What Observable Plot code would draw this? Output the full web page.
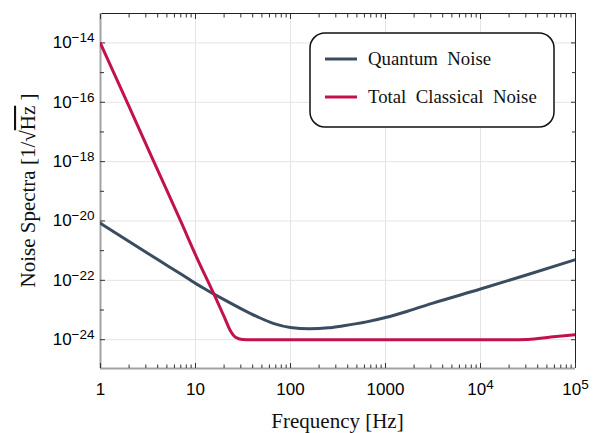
<!DOCTYPE html>
<html><head><meta charset="utf-8">
<script src="https://cdn.jsdelivr.net/npm/d3@7"></script>
<script src="https://cdn.jsdelivr.net/npm/@observablehq/plot@0.6"></script>
<style>body{margin:0;background:#fff}</style>
</head><body><div id="chart"></div>
<script>
// ---- data ----
const quantumFreq  = [1, 2, 4, 6.95, 10, 12.6, 15.6, 20, 30, 45, 67, 100, 158, 251, 363, 631, 1000, 1778, 3162, 10000, 31623, 100000];
const quantumNoise = [8.3e-21, 2.04e-21, 5.0e-22, 1.66e-22, 7.9e-23, 5.1e-23, 3.47e-23, 2.24e-23, 1.12e-23, 5.9e-24, 3.47e-24, 2.57e-24, 2.34e-24, 2.51e-24, 2.95e-24, 3.98e-24, 5.6e-24, 9.5e-24, 1.7e-23, 5.1e-23, 1.58e-22, 5.0e-22];
const classicalFreq  = [1, 1.91, 3.64, 6.95, 10.4, 15.6, 20, 23.3, 26.4, 30.9, 40, 100, 1000, 10000, 20000, 31600, 55000, 100000];
const classicalNoise = [9.5e-15, 1e-16, 1e-18, 1.02e-20, 5.5e-22, 3.47e-23, 6.0e-24, 2.0e-24, 1.2e-24, 1.02e-24, 1e-24, 1e-24, 1e-24, 1e-24, 1e-24, 1.02e-24, 1.23e-24, 1.48e-24];
const seriesNames = ["Quantum  Noise", "Total  Classical  Noise"];
const seriesColors = ["#3a4c5f", "#c2124b"];

const xMajor  = [1, 10, 100, 1000, 1e4, 1e5];
const xLabels = ["1", "10", "100", "1000", "10^4", "10^5"];
const yMajor  = [1e-24, 1e-22, 1e-20, 1e-18, 1e-16, 1e-14];
const yLabels = ["10^\u221224", "10^\u221222", "10^\u221220", "10^\u221218", "10^\u221216", "10^\u221214"];
const yMinor  = [1e-23, 1e-21, 1e-19, 1e-17, 1e-15];
const xMinor  = [];
for (const dec of [1, 10, 100, 1000, 1e4]) for (const m of [2,3,4,5,6,7,8,9]) xMinor.push(dec * m);

const xDomain = [1, 1e5];
const yDomain = [1.07e-25, 9.8e-14];

const quantum = quantumFreq.map((f, i) => ({f, v: quantumNoise[i]}));
const classical = classicalFreq.map((f, i) => ({f, v: classicalNoise[i]}));

const tickColor = "#333";
const axisGray = "#a3a3a3";

const plot = Plot.plot({
  width: 608, height: 433,
  marginLeft: 100, marginRight: 33, marginTop: 13, marginBottom: 65,
  style: {fontFamily: "'Liberation Sans', Arial, sans-serif", fontSize: "17px", background: "white", color: "#000"},
  x: {type: "log", domain: xDomain},
  y: {type: "log", domain: yDomain},
  marks: [
    Plot.gridX(xMajor, {stroke: "#e4e4e4", strokeOpacity: 1, strokeWidth: 1}),
    Plot.gridY(yMajor, {stroke: "#e4e4e4", strokeOpacity: 1, strokeWidth: 1}),
    // frame
    Plot.ruleY([yDomain[1]], {stroke: "#222", strokeWidth: 1}),
    Plot.ruleX([xDomain[1]], {stroke: "#222", strokeWidth: 1}),
    Plot.ruleY([yDomain[0]], {stroke: axisGray, strokeWidth: 2}),
    Plot.ruleX([xDomain[0]], {stroke: axisGray, strokeWidth: 2}),
    // ticks (inward)
    Plot.axisX({anchor: "bottom", ticks: xMajor, tickSize: -5, tickFormat: () => "", label: null, stroke: tickColor}),
    Plot.axisX({anchor: "bottom", ticks: xMinor, tickSize: -3.5, tickFormat: () => "", label: null, stroke: tickColor}),
    Plot.axisX({anchor: "top", ticks: xMajor, tickSize: -5, tickFormat: () => "", label: null, stroke: tickColor}),
    Plot.axisX({anchor: "top", ticks: xMinor, tickSize: -3.5, tickFormat: () => "", label: null, stroke: tickColor}),
    Plot.axisY({anchor: "left", ticks: yMajor, tickSize: -5, tickFormat: () => "", label: null, stroke: tickColor}),
    Plot.axisY({anchor: "left", ticks: yMinor, tickSize: -4, tickFormat: () => "", label: null, stroke: tickColor}),
    Plot.axisY({anchor: "right", ticks: yMajor, tickSize: -5, tickFormat: () => "", label: null, stroke: tickColor}),
    Plot.axisY({anchor: "right", ticks: yMinor, tickSize: -4, tickFormat: () => "", label: null, stroke: tickColor}),
    // tick labels
    Plot.axisX({anchor: "bottom", ticks: xMajor, tickSize: 0, tickPadding: 14, tickFormat: d => xLabels[xMajor.indexOf(d)], label: null, fontSize: 17}),
    Plot.axisY({anchor: "left", ticks: yMajor, tickSize: 0, tickPadding: 6, tickFormat: d => yLabels[yMajor.indexOf(d)], label: null, fontSize: 17}),
    // curves
    Plot.line(quantum, {x: "f", y: "v", stroke: seriesColors[0], strokeWidth: 3, curve: "monotone-x", clip: true}),
    Plot.line(classical, {x: "f", y: "v", stroke: seriesColors[1], strokeWidth: 3, curve: "monotone-x", clip: true})
  ]
});

document.getElementById("chart").appendChild(plot);
const svg = d3.select(plot);

// superscripts in tick labels
svg.selectAll("text").each(function() {
  const t = this.textContent;
  if (t.includes("^")) {
    const [b, e] = t.split("^");
    const sel = d3.select(this);
    sel.text(null);
    sel.append("tspan").text(b);
    sel.append("tspan").attr("dy", "-0.45em").attr("font-size", "13.5px").text(e);
  }
});

const serif = "'Liberation Serif', 'Times New Roman', serif";
// x label
svg.append("text")
  .attr("x", 337.5).attr("y", 428)
  .attr("text-anchor", "middle")
  .attr("font-family", serif).attr("font-size", "21px").attr("fill", "#111")
  .text("Frequency [Hz]");
// y label
const yl = svg.append("text")
  .attr("transform", "translate(35,190.5) rotate(-90)")
  .attr("text-anchor", "middle")
  .attr("font-family", serif).attr("font-size", "21px").attr("fill", "#111");
yl.append("tspan").text("Noise Spectra [1/\u221A");
yl.append("tspan").attr("style", "text-decoration: overline").text("Hz");
yl.append("tspan").text(" ]");

// legend
const lg = svg.append("g");
lg.append("rect").attr("x", 310).attr("y", 33).attr("width", 244).attr("height", 94)
  .attr("rx", 15).attr("ry", 15).attr("fill", "white").attr("stroke", "#111").attr("stroke-width", 1.5);
seriesNames.forEach((name, i) => {
  const yy = 59 + i * 38;
  lg.append("line").attr("x1", 325).attr("x2", 357).attr("y1", yy).attr("y2", yy)
    .attr("stroke", seriesColors[i]).attr("stroke-width", 3);
  lg.append("text").attr("x", 368).attr("y", yy + 5.5)
    .attr("text-anchor", "start")
    .attr("font-family", serif).attr("font-size", "18.8px").attr("fill", "#111")
    .attr("style", "white-space: pre")
    .text(name);
});
</script>
</body></html>
